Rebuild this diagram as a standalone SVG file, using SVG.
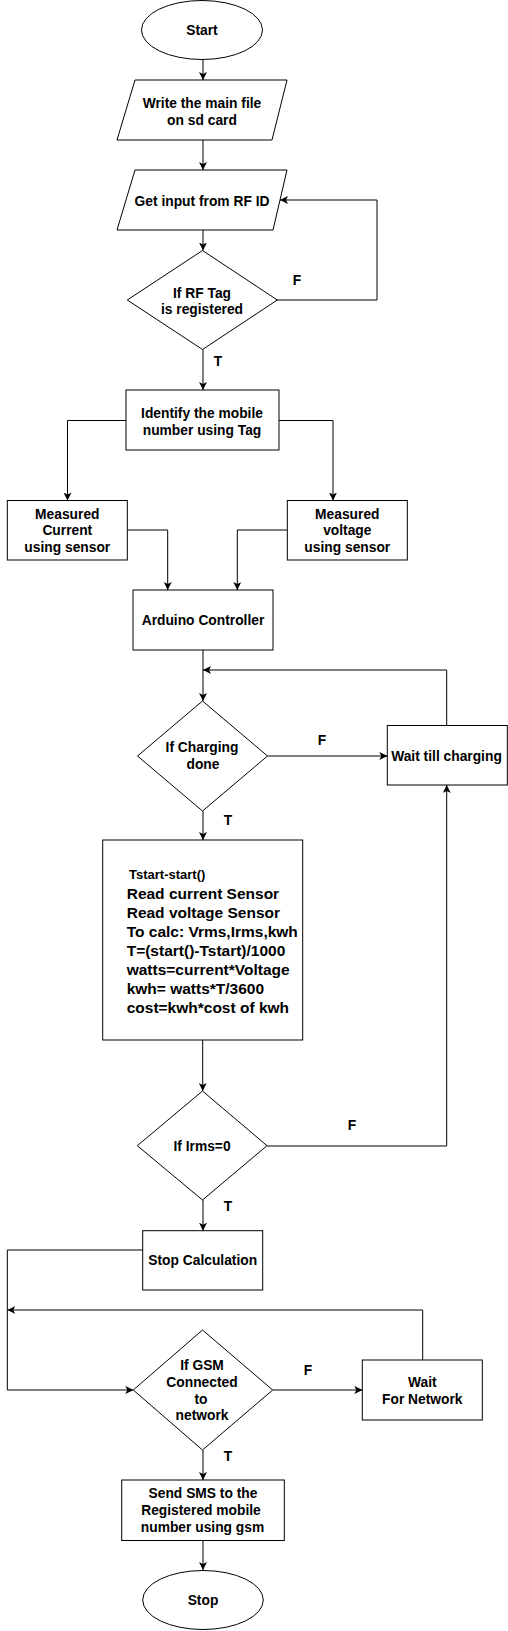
<svg xmlns="http://www.w3.org/2000/svg" width="508" height="1631" viewBox="0 0 508 1631">
<defs>
<marker id="arr" markerUnits="userSpaceOnUse" markerWidth="8" markerHeight="8" viewBox="0 0 8 8" refX="8" refY="4" orient="auto">
<path d="M0,0 L8,4 L0,8 L2,4 Z" fill="#000"/>
</marker>
<style>
.s{fill:#fff;stroke:#000;stroke-width:1}
.c{fill:none;stroke:#000;stroke-width:1}
.t{font-family:"Liberation Sans",Arial,sans-serif;font-weight:bold;font-size:13.8px;fill:#000;text-anchor:middle}
.b{font-family:"Liberation Sans",Arial,sans-serif;font-weight:bold;font-size:15.5px;fill:#000}
.l{font-family:"Liberation Sans",Arial,sans-serif;font-weight:bold;font-size:13.8px;fill:#000;text-anchor:middle}
</style>
</defs>
<rect width="508" height="1631" fill="#fff"/>
<g id="connectors">
<path class="c" d="M203,60 V80" marker-end="url(#arr)"/>
<path class="c" d="M203,140 V170" marker-end="url(#arr)"/>
<path class="c" d="M203,230 V250.5" marker-end="url(#arr)"/>
<path class="c" d="M277,300 H377 V200 H280" marker-end="url(#arr)"/>
<path class="c" d="M203,349.5 V390" marker-end="url(#arr)"/>
<path class="c" d="M126,420.5 H67.5 V500.5" marker-end="url(#arr)"/>
<path class="c" d="M279,420.5 H333 V500.5" marker-end="url(#arr)"/>
<path class="c" d="M127.3,530 H167.7 V590" marker-end="url(#arr)"/>
<path class="c" d="M287.3,530 H237.3 V590" marker-end="url(#arr)"/>
<path class="c" d="M203,650 V701" marker-end="url(#arr)"/>
<path class="c" d="M446.7,725.5 V670 H203" marker-end="url(#arr)"/>
<path class="c" d="M267.5,756 H387.3" marker-end="url(#arr)"/>
<path class="c" d="M203,811 V840" marker-end="url(#arr)"/>
<path class="c" d="M202.7,1040 V1091" marker-end="url(#arr)"/>
<path class="c" d="M267,1146 H446.7 V785" marker-end="url(#arr)"/>
<path class="c" d="M203,1200 V1230.7" marker-end="url(#arr)"/>
<path class="c" d="M142.7,1250 H7.3 V1390 H133.3" marker-end="url(#arr)"/>
<path class="c" d="M422.7,1360 V1310 H7.3" marker-end="url(#arr)"/>
<path class="c" d="M272.7,1390 H362.3" marker-end="url(#arr)"/>
<path class="c" d="M203,1450 V1480" marker-end="url(#arr)"/>
<path class="c" d="M203,1540.5 V1570" marker-end="url(#arr)"/>
</g>
<g id="labels">
<text class="l" x="297" y="284.8">F</text>
<text class="l" x="218" y="365.8">T</text>
<text class="l" x="322" y="744.8">F</text>
<text class="l" x="228" y="824.8">T</text>
<text class="l" x="352" y="1129.8">F</text>
<text class="l" x="228" y="1210.8">T</text>
<text class="l" x="308" y="1374.8">F</text>
<text class="l" x="228" y="1460.8">T</text>
</g>
<g id="start">
<ellipse class="s" cx="202" cy="30" rx="60.5" ry="29.5"/>
<text class="t" x="202" y="34.8">Start</text>
</g>
<g id="write-file">
<polygon class="s" points="135,80 287,80 272,140 117,140"/>
<text class="t" x="202" y="107.8">Write the main file</text>
<text class="t" x="202" y="124.8">on sd card</text>
</g>
<g id="get-input">
<polygon class="s" points="135,170 287,170 273,230 117,230"/>
<text class="t" x="202" y="205.8">Get input from RF ID</text>
</g>
<g id="rf-registered">
<polygon class="s" points="202.5,250.5 277.3,300 202.5,349.5 127.3,300"/>
<text class="t" x="202" y="297.8">If RF Tag</text>
<text class="t" x="202" y="313.8">is registered</text>
</g>
<g id="identify">
<rect class="s" x="126" y="390" width="153" height="60"/>
<text class="t" x="202" y="417.8">Identify the mobile</text>
<text class="t" x="202" y="434.8">number using Tag</text>
</g>
<g id="current">
<rect class="s" x="7.3" y="500.5" width="120" height="59.5"/>
<text class="t" x="67.3" y="518.8">Measured</text>
<text class="t" x="67.3" y="535.3">Current</text>
<text class="t" x="67.3" y="551.8">using sensor</text>
</g>
<g id="voltage">
<rect class="s" x="287.3" y="500.5" width="120" height="59.5"/>
<text class="t" x="347.3" y="518.8">Measured</text>
<text class="t" x="347.3" y="535.3">voltage</text>
<text class="t" x="347.3" y="551.8">using sensor</text>
</g>
<g id="arduino">
<rect class="s" x="133" y="590" width="140" height="60"/>
<text class="t" x="203" y="624.8">Arduino Controller</text>
</g>
<g id="charging-done">
<polygon class="s" points="202.5,701 267.5,756 202.5,811 137.5,756"/>
<text class="t" x="202" y="751.8">If Charging</text>
<text class="t" x="203" y="768.8">done</text>
</g>
<g id="wait-charging">
<rect class="s" x="387.3" y="725.5" width="120" height="59.5"/>
<text class="t" x="446.5" y="760.8">Wait till charging</text>
</g>
<g id="calc">
<rect class="s" x="102.7" y="840" width="200" height="200"/>
<text class="b" x="129" y="878.5" style="font-size:13px">Tstart-start()</text>
<text class="b" x="126.7" y="898.5">Read current Sensor</text>
<text class="b" x="126.7" y="917.5">Read voltage Sensor</text>
<text class="b" x="126.7" y="936.5">To calc: Vrms,Irms,kwh</text>
<text class="b" x="126.7" y="955.5">T=(start()-Tstart)/1000</text>
<text class="b" x="126.7" y="974.5">watts=current*Voltage</text>
<text class="b" x="126.7" y="993.5">kwh= watts*T/3600</text>
<text class="b" x="126.7" y="1012.5">cost=kwh*cost of kwh</text>
</g>
<g id="irms">
<polygon class="s" points="202.5,1091 267,1145.7 202.5,1200 137.3,1145.7"/>
<text class="t" x="202" y="1150.8">If Irms=0</text>
</g>
<g id="stop-calc">
<rect class="s" x="142.7" y="1230.7" width="120" height="59.3"/>
<text class="t" x="202.7" y="1264.8">Stop Calculation</text>
</g>
<g id="gsm">
<polygon class="s" points="202.5,1330 272.7,1390 202.5,1450 133.3,1390"/>
<text class="t" x="202" y="1369.8">If GSM</text>
<text class="t" x="202" y="1386.8">Connected</text>
<text class="t" x="201" y="1403.8">to</text>
<text class="t" x="202" y="1419.8">network</text>
</g>
<g id="wait-network">
<rect class="s" x="362.3" y="1360" width="120" height="60"/>
<text class="t" x="422.3" y="1386.8">Wait</text>
<text class="t" x="422.3" y="1403.8">For Network</text>
</g>
<g id="send-sms">
<rect class="s" x="121.7" y="1480" width="162.6" height="60.5"/>
<text class="t" x="203" y="1497.8">Send SMS to the</text>
<text class="t" x="201" y="1515.3">Registered mobile</text>
<text class="t" x="202.5" y="1532.1">number using gsm</text>
</g>
<g id="stop">
<ellipse class="s" cx="203" cy="1600" rx="60.3" ry="29.5"/>
<text class="t" x="203" y="1604.8">Stop</text>
</g>
</svg>
